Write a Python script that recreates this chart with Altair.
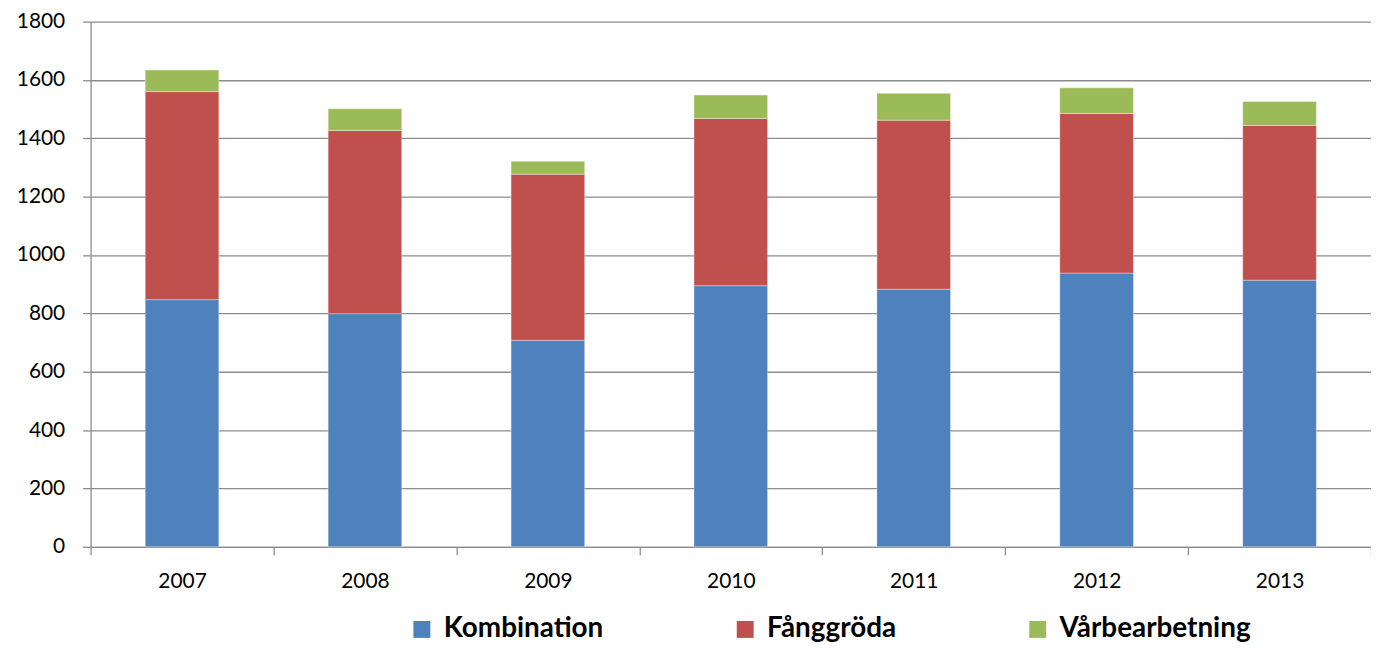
import altair as alt
import pandas as pd

years = ["2007", "2008", "2009", "2010", "2011", "2012", "2013"]
series = ["Kombination", "Fånggröda", "Vårbearbetning"]
kombination = [847, 799, 708, 895, 883, 938, 914]
fanggroda = [713, 628, 569, 573, 579, 547, 530]
varbearbetning = [74, 74, 44, 80, 92, 88, 82]
colors = ["#4F81BD", "#C0504D", "#9BBB59"]
y_ticks = [0, 200, 400, 600, 800, 1000, 1200, 1400, 1600, 1800]

rows = []
for i, y in enumerate(years):
    for k, (name, vals) in enumerate(zip(series, [kombination, fanggroda, varbearbetning])):
        rows.append({"År": y, "Serie": name, "Värde": vals[i], "ordning": k})
df = pd.DataFrame(rows)

FONT = "Lato"
GRAY = "#8c8c8c"

chart = alt.Chart(df).mark_bar(size=74, stroke="white", strokeOpacity=0.35, strokeWidth=1).encode(
    x=alt.X("År:N", sort=years, title=None,
            scale=alt.Scale(paddingInner=0, paddingOuter=0),
            axis=alt.Axis(labelAngle=0, tickBand="extent", ticks=True, tickSize=8,
                          tickColor=GRAY, tickWidth=1.3, domainColor=GRAY, domainWidth=1.3,
                          labelFont=FONT, labelFontSize=21, labelColor="black",
                          labelPadding=16, grid=False)),
    y=alt.Y("Värde:Q", stack="zero", title=None,
            scale=alt.Scale(domain=[0, 1800], nice=False),
            axis=alt.Axis(values=y_ticks, format="d", tickSize=8, tickColor=GRAY, tickWidth=1.3,
                          domainColor=GRAY, domainWidth=1.3, grid=True, gridColor=GRAY,
                          gridWidth=1.3, labelFont=FONT, labelFontSize=21, labelColor="black",
                          labelPadding=18)),
    color=alt.Color("Serie:N", sort=series,
                    scale=alt.Scale(domain=series, range=colors),
                    legend=alt.Legend(title=None, orient="none", direction="horizontal",
                                      legendX=319, legendY=597, symbolType="square",
                                      symbolSize=289, symbolStrokeWidth=0,
                                      labelFont=FONT, labelFontSize=28, labelFontWeight="bold",
                                      labelColor="black", labelLimit=0, columnPadding=128,
                                      labelOffset=8)),
    order=alt.Order("ordning:Q", sort="ascending"),
).properties(
    width=1287, height=528,
    autosize=alt.AutoSizeParams(type="none"),
    padding={"left": 83, "top": 12, "right": 0, "bottom": 95},
).configure_view(stroke=None)

chart.save("out.html", embed_options={"renderer": "svg", "actions": False})
